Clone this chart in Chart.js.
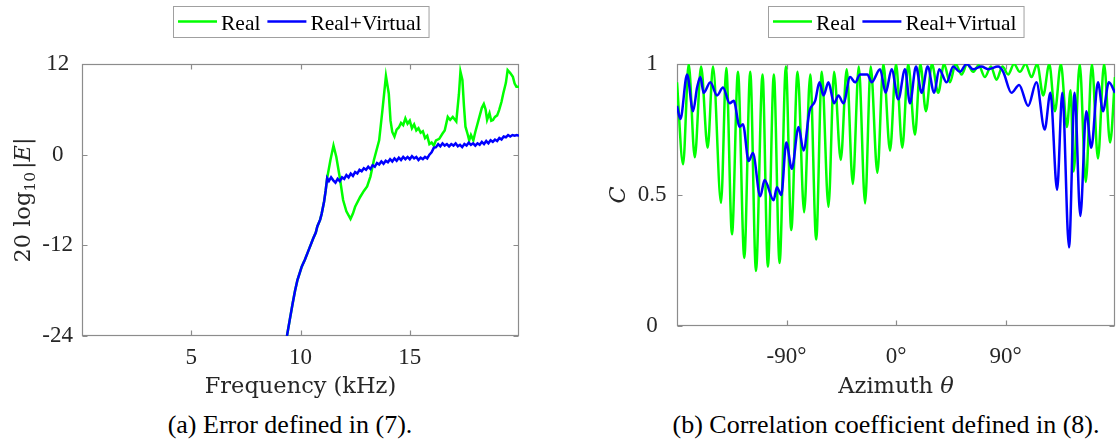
<!DOCTYPE html>
<html>
<head>
<meta charset="utf-8">
<script src="https://cdn.jsdelivr.net/npm/chart.js@4.4.1/dist/chart.umd.min.js"></script>
<style>
  body { margin: 0; background: #fff; }
  #wrap { position: relative; width: 1116px; height: 443px; overflow: hidden; }
  canvas { position: absolute; top: 0; }
  .caption { position: absolute; top: 412px; font: 26px "Liberation Serif", serif; line-height: 26px; text-align: center; color: #000; white-space: nowrap; }
</style>
</head>
<body>
<div id="wrap">
  <canvas id="err-chart" width="558" height="400" style="left:0"></canvas>
  <canvas id="corr-chart" width="558" height="400" style="left:558px"></canvas>
  <div class="caption" style="left:0;width:580px">(a) Error defined in (7).</div>
  <div class="caption" style="left:656px;width:460px">(b) Correlation coefficient defined in (8).</div>
</div>
<script>
// (a) error vs frequency (kHz, dB)
const realFreq = [9.38, 9.5, 9.64, 9.75, 9.86, 10.06, 10.2, 10.35, 10.58, 10.7, 10.77, 10.9, 10.97, 11.08, 11.15, 11.22,
  11.37, 11.51, 11.64, 11.79, 11.95, 12.1, 12.29, 12.4, 12.5, 12.73, 12.9, 13.05, 13.2, 13.36, 13.6, 13.75, 13.91,
  14.04, 14.12, 14.2, 14.3, 14.4, 14.5, 14.6, 14.7, 14.8, 14.9, 15.0, 15.1, 15.2, 15.3, 15.4, 15.5, 15.6, 15.7, 15.8,
  15.9, 16.0, 16.1, 16.2, 16.35, 16.5, 16.6, 16.74, 16.85, 16.97, 17.13, 17.25, 17.32, 17.41, 17.48, 17.55, 17.65,
  17.72, 17.8, 17.91, 18.0, 18.15, 18.3, 18.39, 18.47, 18.54, 18.65, 18.73, 18.81, 18.9, 19.0, 19.09, 19.2, 19.28,
  19.4, 19.48, 19.6, 19.72, 19.8, 19.88, 20];
const realErr = [-24, -22, -19.7, -18, -16.6, -14.8, -13.9, -12.8, -11.1, -10.3, -9.5, -8.6, -7.8, -6.2, -4.8, -3.1,
  -0.7, 1.2, -0.3, -2.9, -6.0, -7.5, -8.5, -7.8, -6.9, -5.6, -4.8, -4.2, -2.9, -0.7, 1.9, 5.9, 10.4,
  8.1, 4.5, 3.0, 2.4, 3.3, 3.6, 4.2, 3.9, 4.8, 4.1, 4.5, 3.5, 4.0, 3.2, 3.5, 2.9, 3.1, 2.2, 2.5,
  1.4, 1.6, 1.2, 1.9, 2.1, 2.8, 3.2, 5.0, 4.6, 5.0, 4.4, 8.0, 11.0, 9.9, 6.5, 3.7, 2.7,
  1.9, 2.6, 1.9, 3.0, 4.6, 6.2, 6.7, 6.0, 4.6, 5.5, 4.5, 4.6, 5.0, 5.2, 5.9, 7.0, 8.1,
  9.5, 11.2, 10.8, 10.3, 9.4, 9.0, 9.0];
const virtFreq = [9.38, 9.5, 9.64, 9.75, 9.86, 10.06, 10.2, 10.35, 10.58, 10.7, 10.77, 10.9, 10.97, 11.08, 11.15, 11.22,
  11.3, 11.4, 11.5, 11.6, 11.7, 11.8, 11.9, 12.0, 12.1, 12.2, 12.3, 12.4, 12.5, 12.6, 12.7, 12.8, 12.9, 13.0, 13.1,
  13.2, 13.3, 13.4, 13.5, 13.6, 13.7, 13.8, 13.9, 14.0, 14.1, 14.2, 14.3, 14.4, 14.5, 14.6, 14.7, 14.8, 14.9, 15.0,
  15.1, 15.2, 15.3, 15.4, 15.5, 15.6, 15.7, 15.8, 15.9, 16.0, 16.1, 16.2, 16.3, 16.4, 16.5, 16.6, 16.7, 16.8, 16.9,
  17.0, 17.1, 17.2, 17.3, 17.4, 17.5, 17.6, 17.7, 17.8, 17.9, 18.0, 18.1, 18.2, 18.3, 18.4, 18.5, 18.6, 18.7, 18.8,
  18.9, 19.0, 19.1, 19.2, 19.3, 19.4, 19.5, 19.6, 19.7, 19.8, 19.9, 20];
const virtErr = [-24, -22, -19.7, -18, -16.6, -14.8, -13.9, -12.8, -11.1, -10.3, -9.5, -8.6, -7.8, -6.2, -4.8, -3.1,
  -3.5, -3.0, -3.4, -3.7, -3.2, -3.5, -3.0, -3.2, -2.7, -3.0, -2.5, -2.8, -2.3, -2.5, -2.0, -2.2, -1.8, -2.0, -1.6,
  -1.9, -1.4, -1.6, -1.1, -1.3, -0.9, -1.2, -0.8, -1.0, -0.6, -0.9, -0.5, -0.8, -0.4, -0.7, -0.3, -0.6, -0.3, -0.6,
  -0.2, -0.5, -0.3, -0.7, -0.4, -0.6, -0.3, -0.5, 0.0, 0.3, 0.9, 1.0, 1.4, 1.1, 1.5, 1.2, 1.4, 1.1, 1.4,
  1.2, 1.5, 1.1, 1.3, 1.0, 1.4, 1.2, 1.6, 1.3, 1.5, 1.2, 1.5, 1.3, 1.7, 1.4, 1.8, 1.5, 1.9, 1.7,
  2.0, 1.8, 2.2, 2.0, 2.4, 2.3, 2.6, 2.4, 2.6, 2.5, 2.6, 2.5];
const freqTicks = [5, 10, 15];
const errTicks = [-24, -12, 0, 12];

// (b) correlation coefficient vs azimuth (deg)
const realAz = [-180, -175.0, -170.4, -165.4, -160.2, -154.8, -150.4, -143.8, -139.5, -134.8, -129.9, -124.7, -119.8,
  -115.1, -109.7, -105.3, -100.4, -95.7, -90.5, -86.1, -80.9, -75.5, -70.5, -65.6, -61.0, -55.5, -50.9, -45.4, -40.5,
  -35.5, -30.6, -25.4, -20.8, -15.3, -10.4, -4.9, 0, 5.2, 10, 15.6, 20, 24.6, 29.5, 34.7, 39.5, 44.3, 49, 53.9, 58.5,
  63.4, 68, 73, 78, 82.6, 87.5, 92.2, 97, 101.8, 106.5, 111.4, 116, 121, 126, 130.6, 135.5, 140.5, 143.5, 146, 151,
  156, 161, 166, 171, 176, 180];
const realC = [0.93, 0.617, 1.0, 0.644, 0.99, 0.68, 0.99, 0.47, 0.985, 0.35, 0.97, 0.26, 0.97,
  0.21, 0.96, 0.226, 0.96, 0.24, 0.99, 0.366, 0.97, 0.434, 0.96, 0.33, 0.97, 0.455, 0.97, 0.634, 0.98,
  0.542, 0.99, 0.468, 0.99, 0.585, 1.0, 0.669, 1.0, 0.68, 1.0, 0.73, 1.0, 0.82, 1.0, 0.89, 1.0, 0.93, 1.0, 0.96, 1.0,
  0.97, 0.995, 0.95, 0.99, 0.94, 0.99, 0.96, 1.0, 0.97, 1.0, 0.95, 1.0, 0.88, 1.0, 0.82, 1.0, 0.76, 0.9, 0.59, 1.0,
  0.55, 1.0, 0.64, 1.0, 0.70, 0.95];
const virtAz = [-180, -177.2, -171.7, -166.8, -163.5, -160.8, -158.1, -152.6, -147.1, -142.2, -136.7, -133.4, -128.5,
  -125.8, -121.1, -117.6, -111.6, -108.0, -100.6, -97.9, -94.3, -90.2, -85.6, -80.1, -76.0, -71.1, -66.4, -62.9, -59.6,
  -55.5, -50.9, -47.3, -43.2, -37.7, -33.6, -29.5, -23.5, -20.0, -13.1, -8.5, -3.6, 1.9, 7.4, 11.5, 16.4, 21.1, 26.0,
  31.4, 35.5, 41.6, 47.0, 52.5, 58.0, 63.4, 70.3, 75.7, 83.9, 88.1, 94.9, 101.2, 108.6, 115.4, 122.2, 126.9, 132.4,
  136.7, 142.2, 146.8, 151.5, 156.4, 160.5, 166.0, 170.1, 175.0, 180];
const virtC = [0.84, 0.79, 0.96, 0.82, 0.91, 0.95, 0.89, 0.93, 0.88, 0.91, 0.85, 0.86, 0.76,
  0.77, 0.63, 0.66, 0.495, 0.557, 0.48, 0.53, 0.50, 0.70, 0.60, 0.76, 0.67, 0.82, 0.86, 0.93, 0.88,
  0.93, 0.85, 0.88, 0.85, 0.95, 0.93, 0.96, 0.96, 0.93, 0.98, 0.89, 0.98, 0.865, 0.98, 0.85, 0.99, 0.89, 0.99,
  0.89, 0.98, 0.93, 0.99, 0.97, 1.0, 0.98, 0.99, 0.98, 0.99, 0.97, 0.89, 0.92, 0.84, 0.93, 0.75, 0.89, 0.52,
  0.89, 0.30, 0.89, 0.42, 0.82, 0.68, 0.93, 0.82, 0.93, 0.89];
const azTicks = [-90, 0, 90];
const azTickLabels = ['-90°', '0°', '90°'];
const cTicks = [0, 0.5, 1];

const seriesNames = ['Real', 'Real+Virtual'];
const GREEN = '#00ff00';
const BLUE = '#0000ff';
const INK = '#262626';
const SERIF = '"Liberation Serif", "Times New Roman", serif';
const TICK_FONT = { family: SERIF, size: 23, style: 'normal', weight: 'normal' };
const TITLE_FAMILY = '"DejaVu Serif", serif';

Chart.defaults.font.family = SERIF;

const pts = (xs, ys) => ys.map((y, i) => ({ x: xs[i], y: y }));

// MATLAB-ish box with inward tick marks
const boxAxes = {
  id: 'boxAxes',
  beforeDatasetsDraw(chart) {
    const { ctx, chartArea: a, scales: { x, y } } = chart;
    const L = Math.round(a.left) + 0.5, R = Math.round(a.right) - 0.5;
    const T = Math.round(a.top) + 0.5, B = Math.round(a.bottom) - 0.5;
    const len = 5;
    ctx.save();
    ctx.strokeStyle = '#8c8c8c';
    ctx.lineWidth = 1.2;
    ctx.strokeRect(L, T, R - L, B - T);
    ctx.beginPath();
    x.ticks.forEach(t => {
      const px = Math.round(x.getPixelForValue(t.value)) + 0.5;
      ctx.moveTo(px, B); ctx.lineTo(px, B - len);
      ctx.moveTo(px, T); ctx.lineTo(px, T + len);
    });
    y.ticks.forEach(t => {
      const py = Math.round(y.getPixelForValue(t.value)) + 0.5;
      ctx.moveTo(L, py); ctx.lineTo(L + len, py);
      ctx.moveTo(R, py); ctx.lineTo(R - len, py);
    });
    ctx.stroke();
    ctx.restore();
  }
};

// boxed horizontal legend above the plot
const boxLegend = {
  id: 'boxLegend',
  afterDraw(chart) {
    const { ctx, chartArea: a } = chart;
    const lineLen = 39, gap = 4, sep = 7, pad = 5, top = 6, h = 31;
    ctx.save();
    ctx.font = '21.5px ' + SERIF;
    const items = chart.data.datasets.map(d => ({ label: d.label, color: d.borderColor, w: ctx.measureText(d.label).width }));
    let total = pad;
    items.forEach((it, i) => { total += lineLen + gap + it.w + (i < items.length - 1 ? sep : 0); });
    total += pad + 2;
    const x0 = Math.round((a.left + a.right) / 2 - total / 2);
    ctx.fillStyle = '#fff';
    ctx.fillRect(x0, top, total, h);
    ctx.strokeStyle = '#a0a0a0';
    ctx.lineWidth = 1;
    ctx.strokeRect(x0 + 0.5, top + 0.5, total, h);
    let cx = x0 + pad;
    const ly = top + h / 2;
    items.forEach(it => {
      ctx.strokeStyle = it.color;
      ctx.lineWidth = 2.5;
      ctx.beginPath(); ctx.moveTo(cx, ly); ctx.lineTo(cx + lineLen, ly); ctx.stroke();
      cx += lineLen + gap;
      ctx.fillStyle = '#000';
      ctx.textBaseline = 'alphabetic';
      ctx.fillText(it.label, cx, top + 23.5);
      cx += it.w + sep;
    });
    ctx.restore();
  }
};

// axis titles with mixed fonts (subscripts, italics)
const richTitles = {
  id: 'richTitles',
  afterDraw(chart, args, opts) {
    const { ctx, chartArea: a } = chart;
    (opts.items || []).forEach(t => {
      ctx.save();
      let w = 0;
      t.parts.forEach(p => { ctx.font = p.font; w += ctx.measureText(p.text).width + (p.gap || 0); });
      if (t.rotate) {
        ctx.translate(t.x, (a.top + a.bottom) / 2);
        ctx.rotate(-Math.PI / 2);
      } else {
        ctx.translate((a.left + a.right) / 2, t.y);
      }
      ctx.fillStyle = INK;
      ctx.textBaseline = 'alphabetic';
      let cx = -w / 2;
      t.parts.forEach(p => {
        ctx.font = p.font;
        ctx.fillText(p.text, cx, p.dy || 0);
        cx += ctx.measureText(p.text).width + (p.gap || 0);
      });
      ctx.restore();
    });
  }
};

function baseOptions(o) {
  return {
    responsive: false,
    animation: false,
    devicePixelRatio: 1,
    layout: { padding: o.padding },
    elements: { point: { radius: 0 }, line: { borderWidth: 2.5 } },
    plugins: { legend: { display: false }, tooltip: { enabled: false }, richTitles: { items: o.titles } },
    scales: {
      x: {
        type: 'linear', min: o.xMin, max: o.xMax,
        grid: { display: false, drawTicks: false },
        border: { display: false },
        afterBuildTicks: s => { s.ticks = o.xTicks.map(v => ({ value: v })); },
        afterFit: s => { s.height = o.xHeight; },
        ticks: { font: TICK_FONT, color: INK, padding: o.xPad, maxRotation: 0, autoSkip: false,
          callback: o.xLabel }
      },
      y: {
        min: o.yMin, max: o.yMax,
        grid: { display: false, drawTicks: false },
        border: { display: false },
        afterBuildTicks: s => { s.ticks = o.yTicks.map(v => ({ value: v })); },
        afterFit: s => { s.width = o.yWidth; },
        ticks: { font: TICK_FONT, color: INK, padding: o.yPad, crossAlign: 'center', autoSkip: false,
          callback: v => String(v) }
      }
    }
  };
}

new Chart(document.getElementById('err-chart').getContext('2d'), {
  type: 'line',
  data: {
    datasets: [
      { label: seriesNames[0], data: pts(realFreq, realErr), borderColor: GREEN, backgroundColor: GREEN, tension: 0, order: 1 },
      { label: seriesNames[1], data: pts(virtFreq, virtErr), borderColor: BLUE, backgroundColor: BLUE, tension: 0, order: 0 }
    ]
  },
  options: baseOptions({
    padding: { left: 0, top: 64, right: 39, bottom: 0 },
    xMin: 0, xMax: 20, yMin: -24, yMax: 12,
    xTicks: freqTicks, yTicks: errTicks,
    xLabel: v => String(v),
    xHeight: 64, yWidth: 82, xPad: 8, yPad: 9,
    titles: [
      { parts: [{ text: 'Frequency (kHz)', font: '22.5px ' + TITLE_FAMILY }], y: 393 },
      { rotate: true, x: 29.5, parts: [
        { text: '20 log', font: '22.5px ' + TITLE_FAMILY },
        { text: '10', font: '15.5px ' + TITLE_FAMILY, dy: 5, gap: 3 },
        { text: '|', font: '22.5px ' + TITLE_FAMILY },
        { text: 'E', font: 'italic 22.5px ' + TITLE_FAMILY },
        { text: '|', font: '22.5px ' + TITLE_FAMILY }
      ] }
    ]
  }),
  plugins: [boxAxes, boxLegend, richTitles]
});

new Chart(document.getElementById('corr-chart').getContext('2d'), {
  type: 'line',
  data: {
    datasets: [
      { label: seriesNames[0], data: pts(realAz, realC), borderColor: GREEN, backgroundColor: GREEN, cubicInterpolationMode: 'monotone', order: 1 },
      { label: seriesNames[1], data: pts(virtAz, virtC), borderColor: BLUE, backgroundColor: BLUE, cubicInterpolationMode: 'monotone', order: 0 }
    ]
  },
  options: baseOptions({
    padding: { left: 0, top: 64, right: 1, bottom: 0 },
    xMin: -180, xMax: 180, yMin: 0, yMax: 1,
    xTicks: azTicks, yTicks: cTicks,
    xLabel: v => azTickLabels[azTicks.indexOf(v)],
    xHeight: 74, yWidth: 119, xPad: 17, yPad: 10.6,
    titles: [
      { parts: [
        { text: 'Azimuth ', font: '22.5px ' + TITLE_FAMILY },
        { text: 'θ', font: 'italic 22.5px ' + TITLE_FAMILY }
      ], y: 393 },
      { rotate: true, x: 67, parts: [{ text: 'C', font: 'italic 22.5px ' + TITLE_FAMILY }] }
    ]
  }),
  plugins: [boxAxes, boxLegend, richTitles]
});
</script>
</body>
</html>
